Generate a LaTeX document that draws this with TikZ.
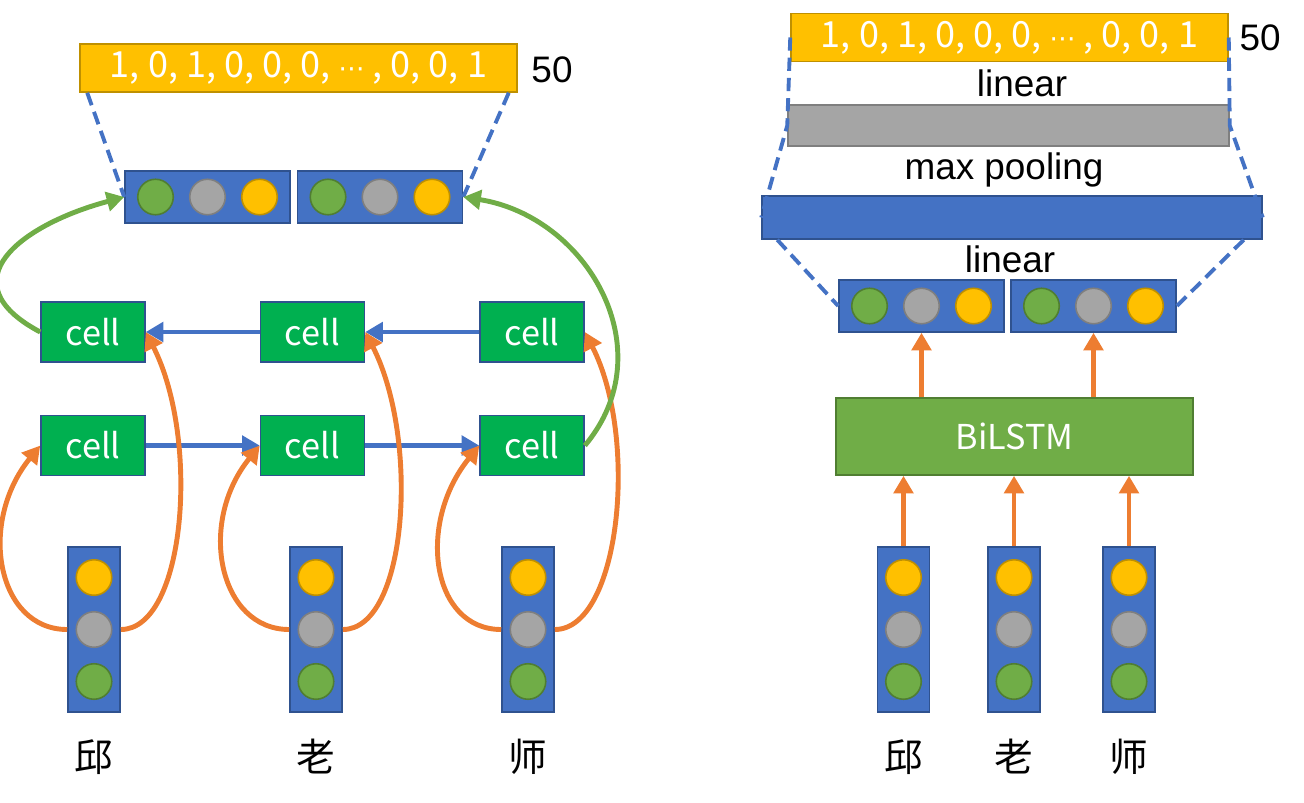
\documentclass[tikz,border=0pt]{standalone}
\usepackage{fontspec}
\setmainfont{Liberation Sans}
\newfontfamily\cjk{Noto Sans CJK SC}
\newfontfamily\symb{DejaVu Sans}
\usetikzlibrary{arrows.meta,positioning}

\definecolor{boxblue}{HTML}{4472C4}
\definecolor{edgeblue}{HTML}{2F528F}
\definecolor{gold}{HTML}{FFC000}
\definecolor{golddark}{HTML}{BF9000}
\definecolor{midgray}{HTML}{A5A5A5}
\definecolor{graydark}{HTML}{7F7F7F}
\definecolor{leaf}{HTML}{70AD47}
\definecolor{leafdark}{HTML}{507E32}
\definecolor{cellgreen}{HTML}{00B050}
\definecolor{orng}{HTML}{ED7D31}

\newcommand{\onehotbits}{1, 0, 1, 0, 0, 0, {\symb\fontsize{15}{17}\selectfont ⋯} , 0, 0, 1}

\tikzset{
    vecrow/.style={rectangle, draw=edgeblue, fill=boxblue, line width=0.9pt, minimum width=3.3cm, minimum height=1.04cm, inner sep=0},
    veccol/.style={vecrow, minimum width=1.04cm, minimum height=3.3cm},
    dot/.style={circle, line width=0.9pt, minimum size=0.71cm, inner sep=0},
    cellbox/.style={rectangle, draw=edgeblue, fill=cellgreen, line width=0.9pt, minimum width=2.08cm, minimum height=1.2cm, text=white, font=\cjk\fontsize{19.5}{23}\selectfont},
    onehot/.style={rectangle, draw=golddark, fill=gold, line width=0.9pt, minimum width=8.74cm, minimum height=0.96cm, text=white, font=\cjk\fontsize{20.5}{24}\selectfont},
    lbl/.style={inner sep=0, font=\fontsize{21}{25}\selectfont},
    word/.style={inner sep=0, font=\cjk\fontsize{22}{26}\selectfont},
    link/.style={draw=boxblue, line width=2.8pt, -{Triangle[length=10pt, width=11pt]}},
    feed/.style={draw=orng, line width=2.8pt, -{Triangle[length=10pt, width=11pt]}},
    skip/.style={draw=leaf, line width=2.8pt, -{Triangle[length=10pt, width=11pt]}},
    dashline/.style={draw=boxblue, line width=2.2pt, dash pattern=on 7.5pt off 4pt}
}

\begin{document}
\begin{tikzpicture}[x=0.02cm, y=0.02cm]
        \useasboundingbox (0, 0) rectangle (1304, -802);

        % left: two lstm rows
        \node[onehot] (oh1) at (298.5, -68) {\onehotbits};
        \node[lbl] (n1) at (552, -70) {50};
        \node[vecrow] (p1) at (207.5, -197) {};
        \node[vecrow] (p2) at (380, -197) {};

        \node[cellbox] (t1) at (93, -332) {cell};
        \node[cellbox, right=2.28cm of t1] (t2) {cell};
        \node[cellbox, right=2.28cm of t2] (t3) {cell};
        \node[cellbox, below=1.04cm of t1] (b1) {cell};
        \node[cellbox, below=1.04cm of t2] (b2) {cell};
        \node[cellbox, below=1.04cm of t3] (b3) {cell};

        \node[veccol] (w1) at (94, -629.5) {};
        \node[veccol] (w2) at (316, -629.5) {};
        \node[veccol] (w3) at (528, -629.5) {};
        \node[word] (l1) at (94, -757) {邱};
        \node[word] (l2) at (316, -757) {老};
        \node[word] (l3) at (528, -757) {师};

        % right: bilstm + pooling
        \node[onehot] (oh2) at (1009.5, -37.5) {\onehotbits};
        \node[lbl] (n2) at (1260, -38) {50};
        \node[lbl] (lin1) at (1022, -83) {linear};
        \node[rectangle, draw=graydark, fill=midgray, line width=0.9pt, minimum width=8.82cm, minimum height=0.82cm] (pool) at (1008.5, -125.5) {};
        \node[lbl] (mp) at (1004, -170) {max pooling};
        \node[rectangle, draw=edgeblue, fill=boxblue, line width=0.9pt, minimum width=10cm, minimum height=0.86cm] (long) at (1012, -217.5) {};
        \node[lbl] (lin2) at (1010, -259) {linear};
        \node[vecrow] (q1) at (921.5, -306) {};
        \node[vecrow] (q2) at (1093.5, -306) {};
        \node[rectangle, draw=leafdark, fill=leaf, line width=0.9pt, minimum width=7.14cm, minimum height=1.54cm, text=white, font=\cjk\fontsize{19.5}{23}\selectfont] (bi) at (1014.5, -436.5) {BiLSTM};

        \node[veccol] (v1) at (903.5, -629.5) {};
        \node[veccol] (v2) at (1014, -629.5) {};
        \node[veccol] (v3) at (1129, -629.5) {};
        \node[word] (r1) at (903.5, -757) {邱};
        \node[word] (r2) at (1014, -757) {老};
        \node[word] (r3) at (1129, -757) {师};

        % dots
        \foreach \b in {p1, p2, q1, q2}
            \foreach \n/\f/\d [count=\i] in {g/leaf/leafdark, s/midgray/graydark, y/gold/golddark}
                \node[dot, fill=\f, draw=\d] (\b\n) at ([xshift=(\i-2)*1.04cm]\b.center) {};
        \foreach \b in {w1, w2, w3, v1, v2, v3}
            \foreach \n/\f/\d [count=\i] in {y/gold/golddark, s/midgray/graydark, g/leaf/leafdark}
                \node[dot, fill=\f, draw=\d] (\b\n) at ([yshift=(2-\i)*1.04cm]\b.center) {};

        \draw[dashline] ([xshift=0.16cm]oh1.south west) -- (p1.west);
        \draw[dashline] ([xshift=-0.18cm]oh1.south east) -- (p2.east);
        \draw[dashline] (oh2.west) -- (pool.west) -- (long.west);
        \draw[dashline] (oh2.east) -- (pool.east) -- (long.east);
        \draw[dashline] ([xshift=0.32cm]long.south west) -- (q1.west);
        \draw[dashline] ([xshift=-0.38cm]long.south east) -- (q2.east);

        \draw[link] (t2) -- (t1);
        \draw[link] (t3) -- (t2);
        \draw[link] (b1) -- (b2);
        \draw[link] (b2) -- (b3);

        \foreach \i in {1, 2, 3} {
            \draw[feed] (w\i.west) to[out=180, in=-129, out distance=1.4cm, in distance=2cm] (b\i.west);
            \draw[feed] (w\i.east) to[out=0, in=-63, out distance=1.3cm, in distance=2.4cm] (t\i.east);
            \draw[feed] (v\i.north) -- (v\i.north |- bi.south);
        }
        \draw[feed] (q1.south |- bi.north) -- (q1.south);
        \draw[feed] (q2.south |- bi.north) -- (q2.south);

        \draw[skip] (t1.west) to[out=152, in=195, distance=2.14cm] (p1.west);
        \draw[skip] (b3.east) to[out=50, in=-9, distance=2.5cm] (p2.east);
    \end{tikzpicture}
\end{document}
